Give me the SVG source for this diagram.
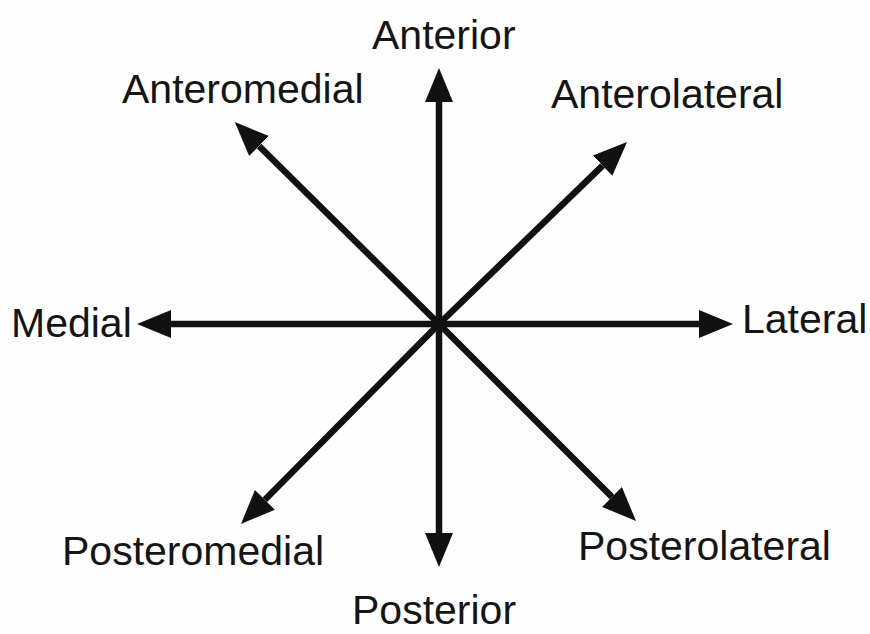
<svg xmlns="http://www.w3.org/2000/svg" width="870" height="634" viewBox="0 0 870 634">
  <style>
    .lbl { font-family: "Liberation Sans", Arial, sans-serif; font-size: 41px; fill: #151515; }
    .ax { stroke: #111; stroke-width: 6.5; fill: none; marker-end: url(#ah); }
  </style>
  <defs>
    <marker id="ah" markerUnits="userSpaceOnUse" markerWidth="36" markerHeight="30" refX="0" refY="14" orient="auto">
      <path d="M0,0 L34,14 L0,28 Z" fill="#111"/>
    </marker>
  </defs>
  <rect width="870" height="634" fill="#fefefe"/>
  <g id="connectors">
    <line class="ax" x1="439" y1="324" x2="439" y2="102"/>
    <line class="ax" x1="439" y1="324" x2="439" y2="533"/>
    <line class="ax" x1="439" y1="324" x2="171" y2="324"/>
    <line class="ax" x1="439" y1="324" x2="699" y2="324"/>
    <line class="ax" x1="439" y1="324" x2="259" y2="146"/>
    <line class="ax" x1="439" y1="324" x2="602.6" y2="165.6"/>
    <line class="ax" x1="439" y1="324" x2="264.9" y2="499.8"/>
    <line class="ax" x1="439" y1="324" x2="612" y2="497"/>
  </g>
  <g id="anterior"><text class="lbl" x="372" y="49">Anterior</text></g>
  <g id="anteromedial"><text class="lbl" x="122" y="103">Anteromedial</text></g>
  <g id="anterolateral"><text class="lbl" x="551" y="108">Anterolateral</text></g>
  <g id="medial"><text class="lbl" x="11" y="337">Medial</text></g>
  <g id="lateral"><text class="lbl" x="742" y="333">Lateral</text></g>
  <g id="posteromedial"><text class="lbl" x="62" y="565">Posteromedial</text></g>
  <g id="posterolateral"><text class="lbl" x="578" y="560">Posterolateral</text></g>
  <g id="posterior"><text class="lbl" x="352" y="624">Posterior</text></g>
</svg>
